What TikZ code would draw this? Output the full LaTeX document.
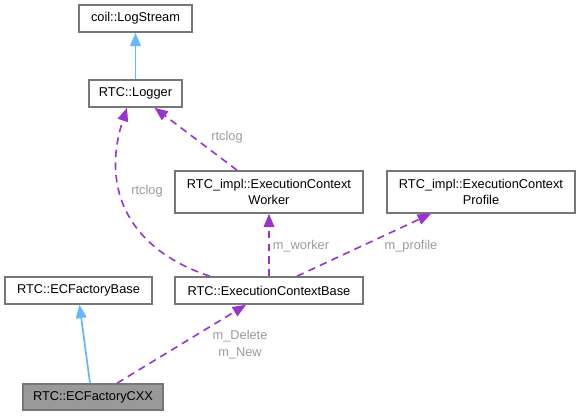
\documentclass[tikz,border=0pt]{standalone}
\usepackage{fontspec}
\setmainfont{Liberation Sans}
\usetikzlibrary{arrows.meta,calc}
\definecolor{edgepurple}{HTML}{9A32CD}
\definecolor{edgeblue}{HTML}{63B8FF}
\definecolor{nodeborder}{HTML}{777777}
\definecolor{nodefill}{HTML}{999999}
\definecolor{lblgray}{HTML}{9A9A9A}
\begin{document}
\begin{tikzpicture}[x=0.75pt,y=-0.75pt,
  font=\fontsize{9.6}{12.6}\selectfont,
  box/.style={draw=nodeborder,line width=1.2pt,fill=white,inner sep=0pt,align=center},
  hl/.style={box,fill=nodefill},
  inherit/.style={draw=edgeblue,line width=1.3pt,-{Triangle[length=10pt,width=8pt]}},
  usage/.style={draw=edgepurple,line width=1.2pt,dash pattern=on 5.5pt off 4pt,-{Triangle[length=10pt,width=8pt]}},
  lbl/.style={text=lblgray,inner sep=0pt,align=center}]
\useasboundingbox (0,0) rectangle (581,416);
\node[box,minimum width=113*0.75pt,minimum height=27*0.75pt] (logstream) at (135.5,18.5) {coil::LogStream};
\node[box,minimum width=93*0.75pt,minimum height=27*0.75pt] (logger) at (135.5,93.5) {RTC::Logger};
\node[box,minimum width=188*0.75pt,minimum height=42*0.75pt] (worker) at (269,192) {RTC\_impl::ExecutionContext\\Worker};
\node[box,minimum width=188*0.75pt,minimum height=42*0.75pt] (profile) at (481,192) {RTC\_impl::ExecutionContext\\Profile};
\node[box,minimum width=188*0.75pt,minimum height=27*0.75pt] (ecb) at (269,290.5) {RTC::ExecutionContextBase};
\node[box,minimum width=147*0.75pt,minimum height=27*0.75pt] (ecfb) at (78.5,290.5) {RTC::ECFactoryBase};
\node[hl,minimum width=140*0.75pt,minimum height=26*0.75pt] (cxx) at (93,397) {RTC::ECFactoryCXX};

\draw[inherit] (logger.north) -- (logstream.south);
\draw[inherit] ($(cxx.north)+(-3,0)$) -- ($(ecfb.south)+(1,0)$);

\draw[usage] ($(worker.north)+(-32,0)$) -- ($(logger.south)+(19,0)$);
\draw[usage] ($(ecb.north)+(-59,0)$) .. controls (130,250) and (100,190) .. ($(logger.south)+(-8.5,0)$);
\draw[usage] (ecb.north) -- (worker.south);
\draw[usage] ($(ecb.north)+(28,0)$) -- ($(profile.south)+(-50,0)$);
\draw[usage] ($(cxx.north)+(24,0)$) -- ($(ecb.south)+(-23,0)$);

\node[lbl] (l1) at (227,137) {rtclog};
\node[lbl] (l2) at (147,191) {rtclog};
\node[lbl] (l3) at (301,246) {m\_worker};
\node[lbl] (l4) at (411,246) {m\_profile};
\node[lbl] (l5) at (240,345) {m\_Delete\\m\_New};
\end{tikzpicture}
\end{document}
